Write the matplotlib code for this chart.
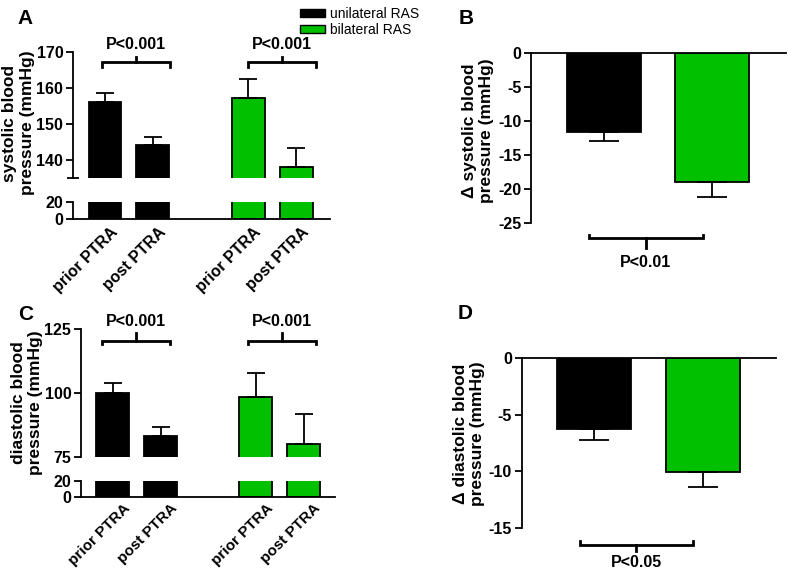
import matplotlib
matplotlib.use("Agg")
import matplotlib.pyplot as plt
from matplotlib.patches import Patch

plt.rcParams['font.family'] = ['Liberation Sans', 'DejaVu Sans']
plt.rcParams['font.weight'] = 'bold'
plt.rcParams['axes.unicode_minus'] = False

# ---- data ----
groups = ["unilateral RAS", "bilateral RAS"]
xpos = [0, 1, 3, 4]
tick_labels = ["prior PTRA", "post PTRA", "prior PTRA", "post PTRA"]

sys_vals = [156.1, 144.2, 157.1, 138.1]
sys_err = [2.6, 2.3, 5.3, 5.1]
dia_vals = [100.0, 83.2, 98.2, 80.0]
dia_err = [4.0, 3.6, 9.6, 11.8]

dsys_vals = [-11.6, -19.05]
dsys_err = [1.3, 2.15]
ddia_vals = [-6.3, -10.1]
ddia_err = [0.9, 1.3]

BLACK = "#000000"
GREEN = "#00c000"
bar_colors = [BLACK, BLACK, GREEN, GREEN]

W, H = 788, 572
fig = plt.figure(figsize=(W / 100, H / 100), dpi=100)


def rect(x0, x1, ytop, ybot):
    return [x0 / W, 1 - ybot / H, (x1 - x0) / W, (ybot - ytop) / H]


LW = 1.3
FS = 11.5


def broken_panel(xr, ytop, ybreak, ylow_top, ylow_bot, vals, errs, top_lim, top_ticks,
                 xlim, brackets, ptext_y, br_y, lab_dx, lab_dy, lab_fs):
    axt = fig.add_axes(rect(xr[0], xr[1], ytop, ybreak))
    axb = fig.add_axes(rect(xr[0], xr[1], ylow_top, ylow_bot))
    for ax in (axt, axb):
        ax.bar(xpos, vals, width=0.69, color=bar_colors, edgecolor='black', linewidth=LW, zorder=2)
        ax.set_xlim(*xlim)
        ax.spines['right'].set_visible(False)
        ax.spines['top'].set_visible(False)
        ax.spines['left'].set_linewidth(LW)
        ax.spines['bottom'].set_linewidth(LW)
        ax.tick_params(axis='y', width=LW, length=5, labelsize=FS, pad=2)
        for t in ax.get_yticklabels():
            t.set_fontweight('bold')
    axt.errorbar(xpos, vals, yerr=[[0] * 4, errs], fmt='none', ecolor='black',
                 elinewidth=LW, capsize=6.5, capthick=LW, zorder=3)
    axt.set_ylim(*top_lim)
    axt.set_yticks(top_ticks)
    axt.set_yticks([top_lim[0]], minor=True)
    axt.tick_params(axis='y', which='minor', direction='inout', length=8, width=LW)
    axt.spines['bottom'].set_visible(False)
    axt.set_xticks([])
    axb.set_ylim(0, 20)
    axb.set_yticks([0, 20])
    axb.set_xticks([])
    for x, lab in zip(xpos, tick_labels):
        axb.annotate(lab, xy=(x, 0), xycoords='data', xytext=(lab_dx, lab_dy),
                     textcoords='offset points', rotation=45, rotation_mode='anchor',
                     ha='right', va='top', fontsize=lab_fs, fontweight='bold',
                     annotation_clip=False)
    for (x0, x1) in brackets:
        xm = (x0 + x1) / 2
        y, yd, yu = br_y
        axt.plot([x0, x0, x1, x1], [yd, y, y, yd], color='black', lw=2, clip_on=False,
                 solid_joinstyle='miter')
        axt.plot([xm, xm], [y, yu], color='black', lw=2, clip_on=False)
        axt.text(xm, ptext_y, "P<0.001", ha='center', va='center', fontsize=FS,
                 fontweight='bold', clip_on=False)
    return axt, axb


# Panel A
broken_panel((73, 330), 52, 178, 202, 219, sys_vals, sys_err, (135, 170),
             [140, 150, 160, 170], (-0.67, 4.71),
             [(-0.06, 1.36), (2.99, 4.42)], 172.2, (167.2, 165.8, 168.6), 3.6, -4.3, 11.5)
# Panel C
broken_panel((81, 335), 329, 456.7, 481, 497.3, dia_vals, dia_err, (75, 125),
             [75, 100, 125], (-0.67, 4.66),
             [(-0.23, 1.2), (2.84, 4.26)], 127.9, (120.4, 119.1, 123.5), 7.2, -3.0, 11.0)


def delta_panel(xr, ytop, ybot, vals, errs, lim, ticks, ptext, br_y, ptext_y):
    ax = fig.add_axes(rect(xr[0], xr[1], ytop, ybot))
    ax.bar([0, 1], vals, width=0.68, color=[BLACK, GREEN], edgecolor='black',
           linewidth=LW, zorder=2)
    ax.errorbar([0, 1], vals, yerr=[errs, [0, 0]], fmt='none', ecolor='black',
                elinewidth=LW, capsize=10.5, capthick=LW, zorder=3)
    ax.set_xlim(-0.668, 1.676)
    ax.set_ylim(*lim)
    ax.set_yticks(ticks)
    ax.set_xticks([])
    ax.spines['right'].set_visible(False)
    ax.spines['bottom'].set_visible(False)
    ax.spines['top'].set_linewidth(LW)
    ax.spines['left'].set_linewidth(LW)
    ax.tick_params(axis='y', width=LW, length=5, labelsize=FS, pad=2)
    for t in ax.get_yticklabels():
        t.set_fontweight('bold')
    x0, x1 = -0.135, 0.91
    xm = (x0 + x1) / 2
    y, yu, yd = br_y
    ax.plot([x0, x0, x1, x1], [yu, y, y, yu], color='black', lw=2, clip_on=False,
            solid_joinstyle='miter')
    ax.plot([xm, xm], [y, yd], color='black', lw=2, clip_on=False)
    ax.text(xm, ptext_y, ptext, ha='center', va='center', fontsize=FS,
            fontweight='bold', clip_on=False)
    return ax


delta_panel((531, 786), 53.3, 222.7, dsys_vals, dsys_err, (-25, 0),
            [0, -5, -10, -15, -20, -25], "P<0.01", (-27.3, -26.8, -28.8), -30.8)
delta_panel((521.7, 776), 358.3, 527.7, ddia_vals, ddia_err, (-15, 0),
            [0, -5, -10, -15], "P<0.05", (-16.5, -16.15, -17.1), -18.1)

# y labels
lab_kw = dict(rotation=90, ha='center', va='center', fontsize=12.5, fontweight='bold',
              multialignment='center', linespacing=1.2)
fig.text(18.5 / W, 1 - 123 / H, "systolic blood\npressure (mmHg)", **lab_kw)
fig.text(27 / W, 1 - 403 / H, "diastolic blood\npressure (mmHg)", **lab_kw)
fig.text(478 / W, 1 - 131 / H, "\u0394 systolic blood\npressure (mmHg)", **lab_kw)
fig.text(469 / W, 1 - 434 / H, "\u0394 diastolic blood\npressure (mmHg)", **lab_kw)

# panel letters
let_kw = dict(fontsize=15, fontweight='bold', ha='left', va='top')
fig.text(17 / W, 1 - 9 / H, "A", **let_kw)
fig.text(459 / W, 1 - 9 / H, "B", **let_kw)
fig.text(18 / W, 1 - 305 / H, "C", **let_kw)
fig.text(458 / W, 1 - 304 / H, "D", **let_kw)

# legend
handles = [Patch(facecolor=BLACK, edgecolor='black', linewidth=1),
           Patch(facecolor=GREEN, edgecolor='black', linewidth=1)]
leg = fig.legend(handles, groups, loc='upper left', bbox_to_anchor=(293 / W, 1 - 0 / H),
                 frameon=False, borderpad=0, handlelength=1.8, handleheight=0.55,
                 handletextpad=0.35, labelspacing=0.15,
                 prop={'family': 'Liberation Sans', 'weight': 'normal', 'size': 10})

fig.savefig("out.png", dpi=100)
